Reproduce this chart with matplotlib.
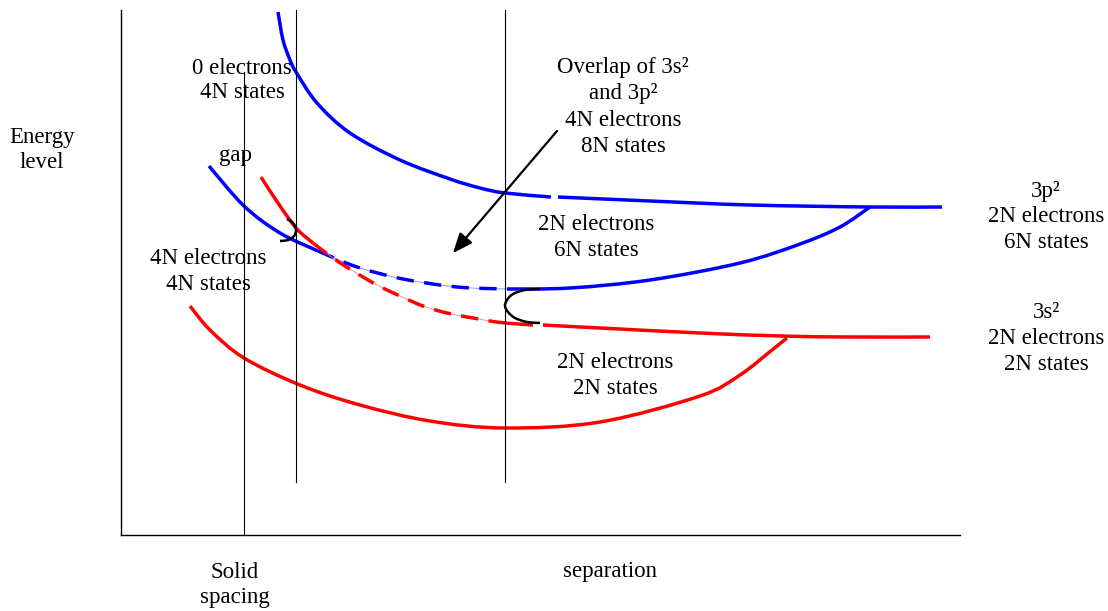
import matplotlib
matplotlib.use("Agg")
import matplotlib.pyplot as plt
from matplotlib.path import Path
from matplotlib.patches import PathPatch

# ---- data (diagram units: x = separation, y = energy; screen-like units) ----
blue_upper_a_x = [278, 283, 290, 296, 317, 350, 400, 450, 480, 505, 551]
blue_upper_a_y = [12, 40, 60, 72, 103, 133, 160, 179, 188, 193, 197]
blue_upper_b_x = [558, 650, 750, 870, 942]
blue_upper_b_y = [197, 201, 205, 207, 207]

blue_lower_a_x = [209, 244, 280, 318]
blue_lower_a_y = [166, 206, 233, 251]
blue_lower_dash_x = [318, 357, 403, 457, 507]
blue_lower_dash_y = [251, 267, 279, 287, 289]
blue_lower_b_x = [507, 570, 650, 740, 800, 840, 870]
blue_lower_b_y = [289, 288, 280, 263, 244, 227, 207]

red_upper_a_x = [261, 280, 297, 313]
red_upper_a_y = [177, 206, 229, 243]
red_upper_dash_x = [313, 333, 353, 377, 400, 423, 447, 473, 490]
red_upper_dash_y = [243, 258, 271, 285, 296, 306, 313, 318, 321]
red_upper_b_x = [490, 505, 533]
red_upper_b_y = [321, 323, 325]
red_upper_c_x = [543, 600, 700, 780, 850, 930]
red_upper_c_y = [325, 328, 333, 336, 337, 337]

red_lower_x = [190, 210, 244, 300, 360, 430, 505, 600, 700, 740, 772, 787]
red_lower_y = [306, 330, 358, 385, 405, 421, 428, 422, 396, 375, 350, 338]

hook_small_x = [287, 293, 296, 294, 288, 280]
hook_small_y = [219, 223, 230, 236, 240, 241]
hook_big_x = [540, 525, 513, 507, 505, 508, 515, 527, 540]
hook_big_y = [289, 290, 294, 300, 306, 312, 318, 322, 323]

vlines_x = [244, 296, 505]
vlines_top = [72, 10, 10]
vlines_bottom = [535, 482, 482]

BLUE = "#0000ff"
RED = "#ff0000"

fig = plt.figure(figsize=(11.08, 6.11), dpi=100)
ax = fig.add_axes([0, 0, 1, 1])
ax.set_xlim(0, 1108)
ax.set_ylim(611, 0)
ax.axis("off")


def smooth(xs, ys, **kw):
    """Draw a smooth curve through the given points (Catmull-Rom as Bezier)."""
    pts = list(zip(xs, ys))
    n = len(pts)
    verts = [pts[0]]
    codes = [Path.MOVETO]
    for i in range(n - 1):
        p0 = pts[i - 1] if i > 0 else pts[i]
        p1 = pts[i]
        p2 = pts[i + 1]
        p3 = pts[i + 2] if i + 2 < n else pts[i + 1]
        c1 = (p1[0] + (p2[0] - p0[0]) / 6.0, p1[1] + (p2[1] - p0[1]) / 6.0)
        c2 = (p2[0] - (p3[0] - p1[0]) / 6.0, p2[1] - (p3[1] - p1[1]) / 6.0)
        verts += [c1, c2, p2]
        codes += [Path.CURVE4] * 3
    patch = PathPatch(Path(verts, codes), fill=False, **kw)
    ax.add_patch(patch)


# axes frame
ax.plot([121, 121], [10, 535], color="black", lw=1.0)
ax.plot([121, 960], [535, 535], color="black", lw=1.0)
for x, t, b in zip(vlines_x, vlines_top, vlines_bottom):
    ax.plot([x, x], [t, b], color="black", lw=0.8)

LW = 2.5
# blue curves
smooth(blue_upper_a_x, blue_upper_a_y, edgecolor=BLUE, lw=LW, capstyle="butt")
smooth(blue_upper_b_x, blue_upper_b_y, edgecolor=BLUE, lw=LW, capstyle="butt")
smooth(blue_lower_a_x, blue_lower_a_y, edgecolor=BLUE, lw=LW, capstyle="butt")
smooth(blue_lower_dash_x, blue_lower_dash_y, edgecolor="#8080ff", lw=0.6)
smooth(blue_lower_dash_x, blue_lower_dash_y, edgecolor=BLUE, lw=LW, linestyle=(0, (5, 3)), capstyle="butt")
smooth(blue_lower_b_x, blue_lower_b_y, edgecolor=BLUE, lw=LW, capstyle="butt")

# red curves
smooth(red_upper_a_x, red_upper_a_y, edgecolor=RED, lw=LW, capstyle="butt")
smooth(red_upper_dash_x, red_upper_dash_y, edgecolor="#ff8080", lw=0.6)
smooth(red_upper_dash_x, red_upper_dash_y, edgecolor=RED, lw=LW, linestyle=(0, (5, 3)), capstyle="butt")
smooth(red_upper_b_x, red_upper_b_y, edgecolor=RED, lw=LW, capstyle="butt")
smooth(red_upper_c_x, red_upper_c_y, edgecolor=RED, lw=LW, capstyle="butt")
smooth(red_lower_x, red_lower_y, edgecolor=RED, lw=LW, capstyle="butt")

# hooks
smooth(hook_small_x, hook_small_y, edgecolor="black", lw=1.8)
smooth(hook_big_x, hook_big_y, edgecolor="black", lw=1.8)

# arrow
ax.annotate("", xy=(453, 253), xytext=(557, 131),
            arrowprops=dict(arrowstyle="-|>,head_length=1.2,head_width=0.5",
                            color="black", lw=1.6, shrinkA=0, shrinkB=0))

FONT = "Liberation Serif"
FS = 16.5


def block(xc, ys, lines):
    for y, s in zip(ys, lines):
        ax.text(xc, y, s, ha="center", va="center", fontsize=FS, family=FONT)


block(42, [137, 162], ["Energy", "level"])
block(242, [68, 92], ["0 electrons", "4N states"])
block(236, [155], ["gap"])
block(208, [258, 284], ["4N electrons", "4N states"])
block(623, [68, 94, 120, 146], ["Overlap of 3s\u00b2", "and 3p\u00b2", "4N electrons", "8N states"])
block(596, [224, 250], ["2N electrons", "6N states"])
block(1046, [192, 217, 242], ["3p\u00b2", "2N electrons", "6N states"])
block(1046, [312, 338, 364], ["3s\u00b2", "2N electrons", "2N states"])
block(615, [363, 389], ["2N electrons", "2N states"])
block(235, [572, 598], ["Solid", "spacing"])
block(610, [572], ["separation"])

fig.savefig("out.png", dpi=100)
